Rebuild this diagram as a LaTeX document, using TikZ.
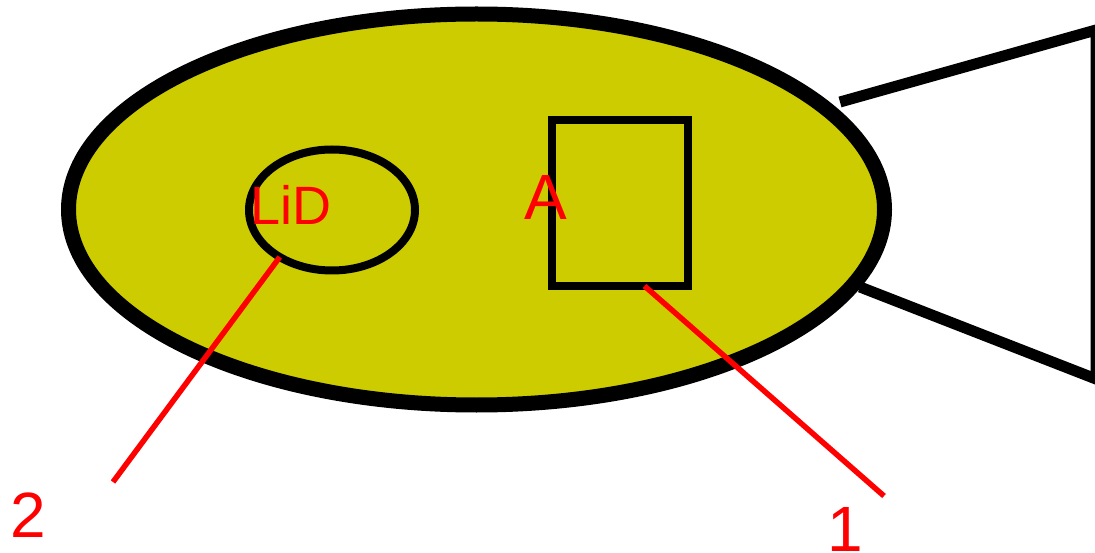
\documentclass[tikz,border=0pt]{standalone}
\usepackage{fontspec}
\setmainfont{Liberation Sans}
\usetikzlibrary{shapes.geometric,calc}
\definecolor{bodyfill}{RGB}{204,204,0}
\definecolor{labelred}{RGB}{255,0,0}
\tikzset{
  outline/.style={draw=black, outer sep=0pt, inner sep=0pt},
  leader/.style={draw=labelred, line width=5.5pt},
  bigtext/.style={text=labelred, font=\fontsize{64}{64}\selectfont, inner sep=0pt, anchor=base},
  midtext/.style={text=labelred, font=\fontsize{54}{54}\selectfont, inner sep=0pt, anchor=base},
}
\begin{document}
\begin{tikzpicture}[x=1pt,y=-1pt]
\useasboundingbox (0,0) rectangle (1095,553);
% tail
\coordinate (t1) at (840,102);
\coordinate (t2) at (1096,30);
\coordinate (t3) at (1096,379);
\coordinate (t4) at (860,287);
\draw[line width=11pt, line join=miter] (t1) -- (t2) -- (t3) -- (t4);
% body
\node[outline, ellipse, fill=bodyfill, line width=15pt, minimum width=816pt, minimum height=391pt] (body) at (476.5,209.5) {};
% lid ellipse
\node[outline, ellipse, line width=8pt, minimum width=166pt, minimum height=121pt] (lid) at (332,210) {};
% box
\node[outline, rectangle, line width=8pt, minimum width=136pt, minimum height=166pt] (box) at (620,203) {};
% labels
\node[midtext] (lidtext) at (291,225) {LiD};
\node[bigtext] (atext) at (546,220) {A};
\node[bigtext] (two) at (28,537) {2};
\node[bigtext] (one) at (845,551) {1};
% leaders
\coordinate (e2) at (113,482);
\coordinate (e1) at (884,496);
\draw[leader] (lid.222) -- (e2);
\draw[leader] ($(box.south west)!0.68!(box.south east)$) -- (e1);
\end{tikzpicture}
\end{document}
